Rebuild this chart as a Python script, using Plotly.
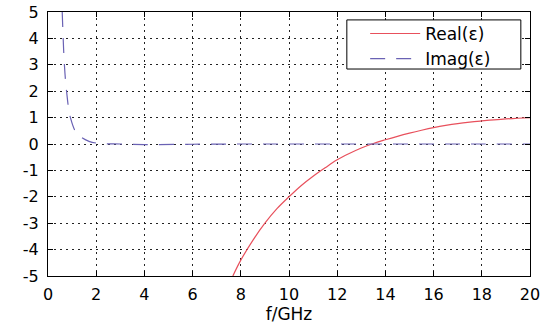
import plotly.graph_objects as go

# Real part of permittivity
f_real = [7.67, 8.0, 8.5, 9.0, 9.5, 10.0, 10.5, 11.0, 11.5, 12.0, 12.5, 13.0, 13.5, 14.0,
          14.5, 15.0, 15.5, 16.0, 16.5, 17.0, 17.5, 18.0, 18.5, 19.0, 19.5, 20.0]
eps_real = [-5.0, -4.4, -3.65, -3.0, -2.45, -2.0, -1.58, -1.22, -0.9, -0.6, -0.36, -0.15, 0.02, 0.16,
            0.29, 0.41, 0.52, 0.62, 0.705, 0.775, 0.83, 0.875, 0.915, 0.948, 0.976, 1.0]

# Imaginary part of permittivity
f_imag = [0.59, 0.63, 0.68, 0.77, 0.93, 1.2, 1.7, 2.2, 3.0, 4.0, 6.0, 8.0, 10.0, 12.0, 14.0, 16.0, 18.0, 20.0]
eps_imag = [5.0, 4.0, 3.0, 2.0, 1.0, 0.4, 0.1, 0.02, 0.0, -0.02, -0.01, 0.0, 0.0, 0.0, 0.0, 0.0, 0.0, 0.0]

x_ticks = list(range(0, 21, 2))
y_ticks = list(range(-5, 6, 1))

fig = go.Figure()
fig.add_trace(go.Scatter(x=f_real, y=eps_real, mode="lines", name="Real(ε)",
                         line=dict(color="#e8505c", width=1.2, shape="spline")))
fig.add_trace(go.Scatter(x=f_imag, y=eps_imag, mode="lines", name="Imag(ε)",
                         line=dict(color="#6a62b4", width=1.2, dash="15px,11px", shape="spline")))

axis_common = dict(showline=True, linecolor="black", linewidth=1, mirror="ticks",
                   ticks="inside", ticklen=5, tickcolor="black",
                   showgrid=True, gridcolor="#222222", gridwidth=1, griddash="2px,4px",
                   zeroline=False, automargin=False,
                   tickfont=dict(family="DejaVu Sans", size=16, color="black"))

fig.update_xaxes(range=[0, 20], tickvals=x_ticks, ticktext=[str(v) for v in x_ticks],
                 ticklabelstandoff=4,
                 title=dict(text="f/GHz", font=dict(family="DejaVu Sans", size=17, color="black"),
                            standoff=2),
                 **axis_common)
fig.update_yaxes(range=[-5, 5], tickvals=y_ticks, ticktext=[str(v) for v in y_ticks],
                 ticklabelstandoff=5,
                 **axis_common)

# legend frame (MATLAB-style box)
fig.add_shape(type="rect", xref="paper", yref="paper",
              x0=0.620, x1=0.981, y0=0.784, y1=0.970,
              fillcolor="white", line=dict(color="black", width=1), layer="above")

fig.update_layout(
    width=544, height=325,
    margin=dict(l=48, r=14, t=12, b=49),
    plot_bgcolor="white", paper_bgcolor="white",
    showlegend=True,
    legend=dict(x=0.658, y=0.985, xanchor="left", yanchor="top",
                bgcolor="rgba(0,0,0,0)", borderwidth=0,
                font=dict(family="DejaVu Sans", size=17, color="black"),
                tracegroupgap=0, itemwidth=50),
)

fig.write_html("out.html", config={"displayModeBar": False},
               post_script="document.body.style.margin='0px';document.body.style.overflow='hidden';")
